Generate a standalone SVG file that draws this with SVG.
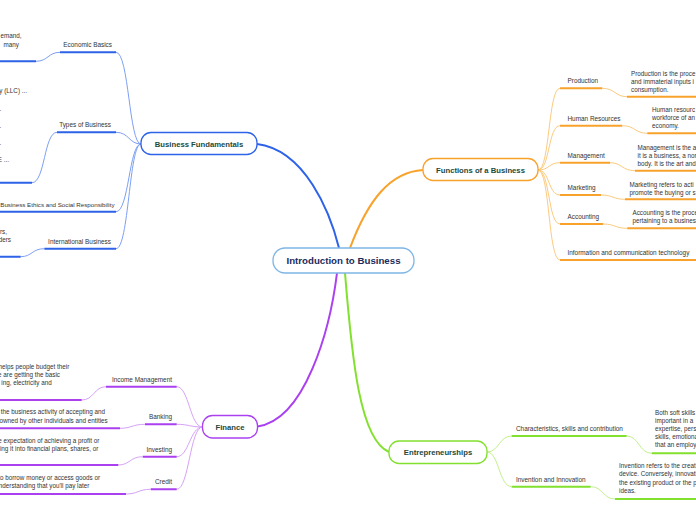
<svg xmlns="http://www.w3.org/2000/svg" width="696" height="520" viewBox="0 0 696 520">
<style>
text{font-family:"Liberation Sans",Arial,sans-serif;fill:#333}
.sub{font-size:6.4px}
.leaf{font-size:6.3px}
.e{text-anchor:end}
.title{font-size:7.7px;font-weight:bold;fill:#1d4a3c;text-anchor:middle}
.root{font-size:9.7px;font-weight:bold;fill:#1a2b5c;text-anchor:middle}
path{fill:none}
.bm{stroke:#2e63e8;stroke-width:2}
.bt{stroke:#7d9ff3;stroke-width:1}
.om{stroke:#f8a22c;stroke-width:2}
.ot{stroke:#fccb80;stroke-width:1}
.pm{stroke:#aa40f0;stroke-width:2}
.pt{stroke:#d6a2f8;stroke-width:1}
.gm{stroke:#82e02e;stroke-width:2}
.gt{stroke:#c2f08c;stroke-width:1}
.box{fill:#fff;stroke-width:1.3}
</style>
<g id="connectors">
<path class="bm" d="M339,248 C330,212 305,150 257,144"/>
<path class="bt" d="M141,144 C129,144 129,52.3 116,52.3"/>
<path class="bt" d="M141,144 C129,144 129,132.3 116,132.3"/>
<path class="bt" d="M141,144 C129,144 129,211.7 116,211.7"/>
<path class="bt" d="M141,144 C129,144 129,248.7 116,248.7"/>
<path class="bm" d="M60,52.3 H116 M57,132.3 H116 M0,211.7 H116 M44.3,248.7 H116"/>
<path class="bt" d="M60,52.3 C48,52.3 48,61.3 36,61.3"/>
<path class="bt" d="M57,132.3 C44,132.3 45,182.7 32,182.7"/>
<path class="bt" d="M44.3,248.7 C32,248.7 32,256.7 20.7,256.7"/>
<path class="bm" d="M0,61.3 H36 M0,182.7 H32 M0,256.7 H20.7"/>

<path class="om" d="M350,248 C368,200 390,172 423,170"/>
<path class="ot" d="M538,170 C550,170 548,88.3 560,88.3"/>
<path class="ot" d="M538,170 C550,170 548,125.7 560,125.7"/>
<path class="ot" d="M538,170 C550,170 548,162.7 560,162.7"/>
<path class="ot" d="M538,170 C550,170 548,195 560,195"/>
<path class="ot" d="M538,170 C550,170 548,224 560,224"/>
<path class="ot" d="M538,170 C550,170 548,260 560,260"/>
<path class="om" d="M560,88.3 H602.3 M560,125.7 H622.3 M560,162.7 H610 M560,195 H601 M560,224 H603.3 M560,260 H696"/>
<path class="ot" d="M602.3,88.3 C615,88.3 615,96.7 627,96.7"/>
<path class="ot" d="M622.3,125.7 C635,125.7 635,133.3 647.3,133.3"/>
<path class="ot" d="M610,162.7 C622,162.7 622,170.7 635,170.7"/>
<path class="ot" d="M601,195 C613,195 613,199.3 625,199.3"/>
<path class="ot" d="M603.3,224 C615,224 615,228.3 627.3,228.3"/>
<path class="om" d="M627,96.7 H696 M647.3,133.3 H696 M635,170.7 H696 M625,199.3 H696 M627.3,228.3 H696"/>

<path class="pm" d="M337,273 C330,330 305,420 257.5,426.5"/>
<path class="pt" d="M202.5,427 C190,427 189,386.7 176.7,386.7"/>
<path class="pt" d="M202.5,427 C190,427 189,424.3 176.7,424.3"/>
<path class="pt" d="M202.5,427 C190,427 189,456.7 176.7,456.7"/>
<path class="pt" d="M202.5,427 C190,427 189,489.3 176.7,489.3"/>
<path class="pm" d="M106,386.7 H176.7 M145,424.3 H176.7 M142.7,456.7 H176.7 M150.7,489.3 H176.7"/>
<path class="pt" d="M106,386.7 C94,386.7 94,400 81.7,400"/>
<path class="pt" d="M145,424.3 C132,424.3 132,428.3 120,428.3"/>
<path class="pt" d="M142.7,456.7 C130,456.7 130,465 118.3,465"/>
<path class="pt" d="M150.7,489.3 C138,489.3 138,494 126,494"/>
<path class="pm" d="M0,400 H81.7 M0,428.3 H120 M0,465 H118.3 M0,494 H126"/>

<path class="gm" d="M345,273 C352,360 360,440 389,452"/>
<path class="gt" d="M487,452 C499,452 499,436 511.7,436"/>
<path class="gt" d="M487,452 C499,452 499,486.7 511.7,486.7"/>
<path class="gm" d="M511.7,436 H626.7 M511.7,486.7 H590.7"/>
<path class="gt" d="M626.7,436 C639,436 639,453.3 651.7,453.3"/>
<path class="gt" d="M590.7,486.7 C603,486.7 603,499 615,499"/>
<path class="gm" d="M651.7,453.3 H696 M615,499 H696"/>
</g>

<g id="root">
<rect class="box" x="273" y="248" width="141" height="25" rx="12" stroke="#7db6e6"/>
<text class="root" x="343.5" y="264">Introduction to Business</text>
</g>

<g id="business-fundamentals">
<rect class="box" x="141" y="132.5" width="116" height="22" rx="10" stroke="#2e63e8"/>
<text class="title" x="199" y="146.5">Business Fundamentals</text>
</g>
<g id="economic-basics">
<text class="sub e" x="112" y="47.3">Economic Basics</text>
<text class="leaf e" x="21.5" y="38">emand,</text>
<text class="leaf e" x="19" y="47">many</text>
</g>
<g id="types-of-business">
<text class="sub e" x="111" y="127.3">Types of Business</text>
<text class="leaf e" x="27" y="93">ny (LLC) ...</text>
<text class="leaf" x="-0.5" y="111">.</text>
<text class="leaf" x="-0.5" y="128">.</text>
<text class="leaf" x="-0.5" y="145">.</text>
<text class="leaf e" x="9" y="162">E ...</text>
</g>
<g id="business-ethics">
<text class="sub" x="0.3" y="206.7" style="font-size:6.2px">Business Ethics and Social Responsibility</text>
</g>
<g id="international-business">
<text class="sub e" x="111" y="243.7">International Business</text>
<text class="leaf e" x="7" y="233.7">rs,</text>
<text class="leaf e" x="11" y="242">ders</text>
</g>

<g id="functions-of-a-business">
<rect class="box" x="423" y="158.5" width="115" height="22" rx="10" stroke="#f8a22c"/>
<text class="title" x="480.5" y="172.5">Functions of a Business</text>
</g>
<g id="production">
<text class="sub" x="567.5" y="83.3">Production</text>
<text class="leaf" x="631" y="75.5">Production is the proce</text>
<text class="leaf" x="631" y="83.5">and immaterial inputs i</text>
<text class="leaf" x="631" y="91.5">consumption.</text>
</g>
<g id="human-resources">
<text class="sub" x="567.5" y="120.7">Human Resources</text>
<text class="leaf" x="652" y="112">Human resourc</text>
<text class="leaf" x="652" y="120">workforce of an</text>
<text class="leaf" x="652" y="128">economy.</text>
</g>
<g id="management">
<text class="sub" x="567.5" y="157.7">Management</text>
<text class="leaf" x="637.5" y="149.5">Management is the a</text>
<text class="leaf" x="637.5" y="157.5">it is a business, a nor</text>
<text class="leaf" x="637.5" y="165.5">body. It is the art and</text>
</g>
<g id="marketing">
<text class="sub" x="567.5" y="190">Marketing</text>
<text class="leaf" x="629.5" y="186.5">Marketing refers to acti</text>
<text class="leaf" x="629.5" y="194.5">promote the buying or s</text>
</g>
<g id="accounting">
<text class="sub" x="567.5" y="219">Accounting</text>
<text class="leaf" x="632.5" y="214.7">Accounting is the proce</text>
<text class="leaf" x="632.5" y="223">pertaining to a business</text>
</g>
<g id="ict">
<text class="sub" x="567.5" y="255">Information and communication technology</text>
</g>

<g id="finance">
<rect class="box" x="202.5" y="415.5" width="55" height="22.5" rx="10" stroke="#aa40f0"/>
<text class="title" x="230" y="429.5">Finance</text>
</g>
<g id="income-management">
<text class="sub e" x="172" y="381.7">Income Management</text>
<text class="leaf e" x="69.3" y="368.7">helps people budget their</text>
<text class="leaf e" x="60" y="376.5">e are getting the basic</text>
<text class="leaf e" x="51.7" y="384.7">ing, electricity and</text>
</g>
<g id="banking">
<text class="sub e" x="172" y="419.3">Banking</text>
<text class="leaf e" x="105" y="413.7">the business activity of accepting and</text>
<text class="leaf e" x="107.7" y="422.5">owned by other individuals and entities</text>
</g>
<g id="investing">
<text class="sub e" x="172" y="451.7">Investing</text>
<text class="leaf e" x="99.3" y="442.7">e expectation of achieving a profit or</text>
<text class="leaf e" x="98.3" y="451.3">ing it into financial plans, shares, or</text>
</g>
<g id="credit">
<text class="sub e" x="172" y="484.3">Credit</text>
<text class="leaf e" x="100" y="479.7">to borrow money or access goods or</text>
<text class="leaf e" x="89.3" y="488">nderstanding that you'll pay later</text>
</g>

<g id="entrepreneurships">
<rect class="box" x="389" y="441" width="98" height="22.5" rx="10" stroke="#82e02e"/>
<text class="title" x="438" y="455">Entrepreneurships</text>
</g>
<g id="characteristics">
<text class="sub" x="516" y="431">Characteristics, skills and contribution</text>
<text class="leaf" x="655" y="414.5">Both soft skills</text>
<text class="leaf" x="655" y="422.5">important in a</text>
<text class="leaf" x="655" y="430.5">expertise, pers</text>
<text class="leaf" x="655" y="438.5">skills, emotiona</text>
<text class="leaf" x="655" y="446.5">that an employ</text>
</g>
<g id="invention">
<text class="sub" x="516" y="481.7">Invention and Innovation</text>
<text class="leaf" x="619" y="467.5">Invention refers to the creat</text>
<text class="leaf" x="619" y="476">device. Conversely, innovati</text>
<text class="leaf" x="619" y="484.5">the existing product or the p</text>
<text class="leaf" x="619" y="493">ideas.</text>
</g>
</svg>
